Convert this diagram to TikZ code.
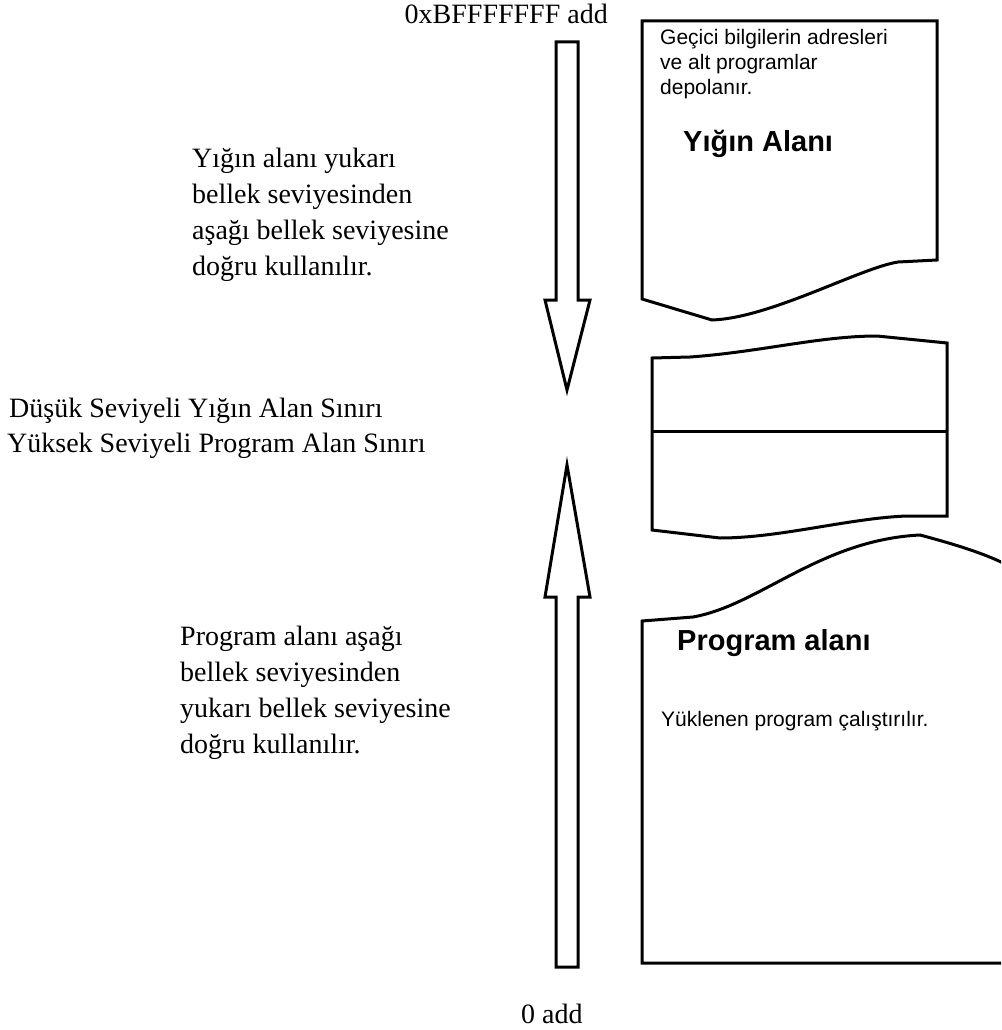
\documentclass[tikz,border=0pt]{standalone}
\usepackage{fontspec}
\setmainfont{Liberation Serif}
\newfontfamily\arialfont{Liberation Sans}
\tikzset{
  outline/.style={draw=black, line width=3pt, line join=miter, fill=white},
  serifline/.style={anchor=base west, inner sep=0pt, font=\fontsize{28}{34}\selectfont},
  sansline/.style={anchor=base west, inner sep=0pt, font=\arialfont\fontsize{21}{25}\selectfont},
  sanstitle/.style={anchor=base west, inner sep=0pt, font=\arialfont\bfseries\fontsize{29}{34}\selectfont},
}
\begin{document}
\begin{tikzpicture}[x=1pt, y=-1pt]
  \path[use as bounding box] (0,0) rectangle (1001,1030);

  % downward arrow: stack grows towards lower addresses
  \draw[outline] (556,42) -- (578,42) -- (578,300) -- (590,300) -- (567,390)
    -- (545,300) -- (556,300) -- cycle;
  % upward arrow: program area grows towards higher addresses
  \draw[outline] (556,967) -- (578,967) -- (578,597) -- (590,597) -- (567,465)
    -- (545,597) -- (556,597) -- cycle;

  % stack area, torn bottom edge
  \draw[outline] (642,21) -- (937,21) -- (937,260) -- (898,262)
    .. controls (860,268) and (770,318) .. (712,320) -- (642,299) -- cycle;

  % boundary region between the two areas
  \draw[outline] (652,358) -- (690,357) .. controls (760,352) and (820,336) .. (877,336)
    -- (947,343) -- (947,516) -- (907,516)
    .. controls (850,518) and (780,538) .. (720,538) -- (652,530) -- cycle;
  \draw[line width=3pt] (652,431) -- (947,431);

  % program area, torn top edge, running off to the right
  \begin{scope}
    \clip (0,0) rectangle (1001,1030);
    \draw[outline] (642,963) -- (642,621) -- (693,617)
      .. controls (760,605) and (820,540) .. (920,535)
      .. controls (950,543) and (980,552) .. (1001,562) -- (1030,576)
      -- (1030,963) -- cycle;
  \end{scope}

  % address labels
  \node[serifline, anchor=base east] (top) at (608,24) {0xBFFFFFFF add};
  \node[serifline] (bottom) at (521,1023) {0 add};

  % stack description
  \node[serifline] (s1) at (192,167) {Yığın alanı yukarı};
  \node[serifline] (s2) at (192,203) {bellek seviyesinden};
  \node[serifline] (s3) at (192,239) {aşağı bellek seviyesine};
  \node[serifline] (s4) at (192,275) {doğru kullanılır.};

  % boundary description
  \node[serifline] (b1) at (9,417) {Düşük Seviyeli Yığın Alan Sınırı};
  \node[serifline] (b2) at (7,452) {Yüksek Seviyeli Program Alan Sınırı};

  % program description
  \node[serifline] (p1) at (180,645) {Program alanı aşağı};
  \node[serifline] (p2) at (180,681) {bellek seviyesinden};
  \node[serifline] (p3) at (180,717) {yukarı bellek seviyesine};
  \node[serifline] (p4) at (180,753) {doğru kullanılır.};

  % texts inside the areas
  \node[sansline] (g1) at (660,45) {Geçici bilgilerin adresleri};
  \node[sansline] (g2) at (660,70) {ve alt programlar};
  \node[sansline] (g3) at (660,95) {depolanır.};
  \node[sanstitle] (ya) at (683,151) {Yığın Alanı};
  \node[sanstitle] (pa) at (677,650) {Program alanı};
  \node[sansline] (yp) at (661,726) {Yüklenen program çalıştırılır.};
\end{tikzpicture}
\end{document}
